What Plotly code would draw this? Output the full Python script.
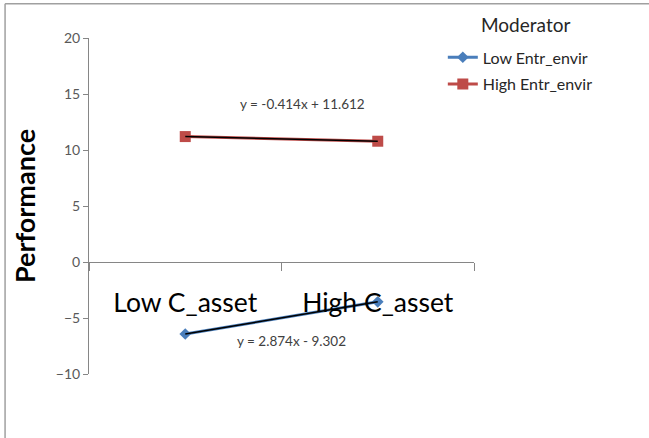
import plotly.graph_objects as go

# Moderation plot: performance by C_asset level for two moderator groups
categories = ["Low C_asset", "High C_asset"]
x_pos = [1, 2]
series_names = ["Low Entr_envir", "High Entr_envir"]
low_entr = [-6.428, -3.554]
high_entr = [11.198, 10.784]
# fitted linear trend coefficients (slope, intercept) for each series
trend_low = (2.874, -9.302)
trend_high = (-0.414, 11.612)
y_ticks = [-10, -5, 0, 5, 10, 15, 20]

FONT = "Lato, 'Noto Sans', sans-serif"
BLUE = "#4A7EBB"
RED = "#BE4B48"
AXIS = "#868686"

fig = go.Figure()

fig.add_trace(go.Scatter(
    x=x_pos, y=low_entr, name=series_names[0], mode="lines+markers",
    legendgroup="a",
    line=dict(color=BLUE, width=3),
    marker=dict(symbol="diamond", size=9, color=BLUE),
))
fig.add_trace(go.Scatter(
    x=x_pos, y=high_entr, name=series_names[1], mode="lines+markers",
    legendgroup="b",
    line=dict(color=RED, width=3),
    marker=dict(symbol="square", size=11, color=RED),
))

# black linear trend lines over each series
for slope, icpt in (trend_low, trend_high):
    fig.add_trace(go.Scatter(
        x=x_pos, y=[slope * x + icpt for x in x_pos], mode="lines",
        line=dict(color="black", width=1.5), showlegend=False, hoverinfo="skip",
    ))

def eq_text(slope, icpt):
    sign = "+" if icpt >= 0 else "-"
    return f"y = {slope:.3f}x {sign} {abs(icpt):.3f}"

fig.add_annotation(x=1.61, y=14.1, text=eq_text(*trend_high), showarrow=False,
                   font=dict(family=FONT, size=13.5, color="#404040"))
fig.add_annotation(x=1.55, y=-7.05, text=eq_text(*trend_low), showarrow=False,
                   font=dict(family=FONT, size=13.5, color="#404040"))

# legend heading
fig.add_annotation(x=1.1325, y=1.04, xref="paper", yref="paper",
                   xanchor="center", yanchor="middle",
                   text="Moderator", showarrow=False,
                   font=dict(family=FONT, size=19, color="#262626"))

# outer chart frame (left and top edges)
fig.add_shape(type="line", xref="paper", yref="paper",
              x0=-0.218, x1=-0.218, y0=1.102, y1=-0.3,
              line=dict(color="#A0A0A0", width=1.5))
fig.add_shape(type="line", xref="paper", yref="paper",
              x0=-0.218, x1=1.5, y0=1.102, y1=1.102,
              line=dict(color="#A0A0A0", width=1.5))

fig.update_layout(
    width=649, height=438,
    margin=dict(l=89, r=175, t=38, b=64),
    paper_bgcolor="white", plot_bgcolor="white",
    font=dict(family=FONT, color="#404040"),
    showlegend=True,
    legend=dict(
        x=0.919, y=0.993, xanchor="left", yanchor="top",
        font=dict(family=FONT, size=16, color="#262626"),
        bgcolor="rgba(0,0,0,0)", tracegroupgap=3,
    ),
    xaxis=dict(
        range=[0.5, 2.5], tickvals=x_pos, ticktext=categories,
        ticks="", showgrid=False, zeroline=False,
        showline=True, linecolor=AXIS, linewidth=1,
        anchor="free", position=1 / 3,
        tickfont=dict(family=FONT, size=26.5, color="black"),
        ticklabelstandoff=17,
        minor=dict(tickvals=[0.5, 1.5, 2.5], ticks="outside", ticklen=8,
                   tickcolor=AXIS, showgrid=False),
    ),
    yaxis=dict(
        range=[-10, 20], tickvals=y_ticks, ticks="outside", ticklen=5,
        tickcolor=AXIS, showline=True, linecolor=AXIS, linewidth=1,
        showgrid=False, zeroline=False,
        tickfont=dict(family=FONT, size=14, color="#595959"),
        title=dict(text="<b>Performance</b>", standoff=12,
                   font=dict(family=FONT, size=27, color="black")),
    ),
)

fig.write_html("out.html")
